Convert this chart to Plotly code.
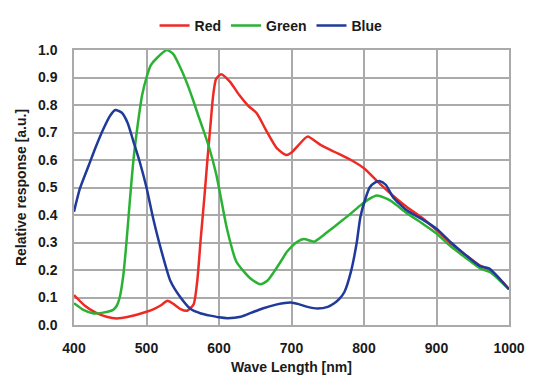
import plotly.graph_objects as go

red_x = [400, 415, 430, 445, 459, 475, 490, 500, 510, 520, 529, 538, 547, 556, 565, 570, 575, 580, 584, 588, 592, 596, 603, 615, 628, 640, 652, 666, 680, 693, 700, 710, 722, 740, 759, 782, 800, 822, 840, 859, 880, 900, 920, 940, 960, 975, 990, 1000]
red_y = [0.109, 0.07, 0.045, 0.03, 0.024, 0.03, 0.04, 0.048, 0.058, 0.072, 0.088, 0.075, 0.058, 0.052, 0.075, 0.16, 0.32, 0.47, 0.6, 0.72, 0.836, 0.895, 0.912, 0.885, 0.836, 0.798, 0.77, 0.703, 0.642, 0.618, 0.627, 0.655, 0.685, 0.655, 0.63, 0.6, 0.57, 0.513, 0.47, 0.429, 0.39, 0.345, 0.295, 0.255, 0.216, 0.198, 0.16, 0.13]

green_x = [400, 413, 427, 440, 454, 459, 463, 468, 472, 477, 482, 488.5, 494, 500, 506, 514, 528, 537, 546, 555, 564, 571, 578, 587, 596, 601, 611, 624, 643, 657, 667, 676, 685, 694, 708, 717, 731, 740, 750, 768, 782, 795, 805, 818, 836, 860, 880, 900, 920, 940, 960, 975, 990, 1000]
green_y = [0.079, 0.055, 0.042, 0.045, 0.055, 0.07, 0.1, 0.18, 0.29, 0.45, 0.6, 0.74, 0.836, 0.9, 0.945, 0.97, 1.0, 0.985, 0.94, 0.885, 0.82, 0.765, 0.712, 0.64, 0.55, 0.485, 0.35, 0.23, 0.17, 0.148, 0.162, 0.194, 0.23, 0.267, 0.303, 0.313, 0.303, 0.318, 0.339, 0.376, 0.406, 0.435, 0.455, 0.471, 0.453, 0.405, 0.37, 0.333, 0.285, 0.245, 0.206, 0.19, 0.155, 0.13]

blue_x = [400, 408, 420, 430, 440, 450, 457, 466, 474, 482, 491, 500, 509, 520, 533, 547, 561, 575, 588, 600, 612, 630, 645, 660, 680, 699, 710, 722, 736, 750, 759, 766, 773, 782, 790, 795, 802, 808, 815, 822, 830, 840, 859, 880, 900, 920, 940, 960, 973, 988, 1000]
blue_y = [0.412, 0.495, 0.578, 0.647, 0.71, 0.762, 0.782, 0.772, 0.735, 0.667, 0.59, 0.50, 0.39, 0.275, 0.16, 0.1, 0.058, 0.042, 0.034, 0.028, 0.025, 0.03, 0.045, 0.06, 0.075, 0.082, 0.076, 0.066, 0.06, 0.066, 0.079, 0.095, 0.12, 0.194, 0.3, 0.393, 0.46, 0.501, 0.518, 0.523, 0.51, 0.465, 0.417, 0.385, 0.35, 0.30, 0.255, 0.214, 0.205, 0.165, 0.13]

x_ticks = [400, 500, 600, 700, 800, 900, 1000]
y_ticks = [0.0, 0.1, 0.2, 0.3, 0.4, 0.5, 0.6, 0.7, 0.8, 0.9, 1.0]

FONT = "Liberation Sans, Arial, sans-serif"
TXT = "#1a1a1a"

fig = go.Figure()
for name, xs, ys, col in [("Red", red_x, red_y, "#ee2a24"),
                          ("Green", green_x, green_y, "#2bb234"),
                          ("Blue", blue_x, blue_y, "#1f3a99")]:
    fig.add_trace(go.Scatter(x=xs, y=ys, name=name, mode="lines",
                             line=dict(color=col, width=2.5, shape="spline", smoothing=0.6)))

fig.update_layout(
    width=529, height=367,
    margin=dict(l=66, r=28, t=42, b=50, autoexpand=False),
    paper_bgcolor="white", plot_bgcolor="white",
    font=dict(family=FONT, size=14, color=TXT, weight="bold"),
    showlegend=True,
    legend=dict(orientation="h", x=0.453, xanchor="center", y=1.088, yanchor="middle",
                font=dict(size=14, color=TXT, weight="bold"),
                tracegroupgap=0),
    xaxis=dict(range=[400, 1000], tickvals=x_ticks, ticktext=[str(v) for v in x_ticks],
               showgrid=True, gridcolor="#aaaaaa", gridwidth=1.5,
               showline=True, linecolor="#aaaaaa", linewidth=1.5, mirror=True,
               zeroline=False, ticks="", ticklen=0, automargin=False,
               ticklabelstandoff=9,
               title=dict(text="Wave Length [nm]", font=dict(size=14, weight="bold"), standoff=10)),
    yaxis=dict(range=[0, 1.0], tickvals=y_ticks, ticktext=[f"{v:.1f}" for v in y_ticks],
               showgrid=True, gridcolor="#aaaaaa", gridwidth=1.5,
               showline=True, linecolor="#aaaaaa", linewidth=1.5, mirror=True,
               zeroline=False, ticks="", ticklen=0, automargin=False,
               ticklabelstandoff=12,
               title=dict(text="Relative response [a.u.]", font=dict(size=14, weight="bold"), standoff=8)),
)
fig.write_html("out.html")
